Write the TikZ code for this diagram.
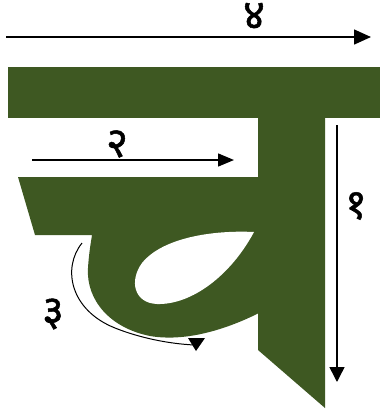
\documentclass[tikz,border=0pt]{standalone}
\usepackage{fontspec}
\newfontfamily\deva[Script=Devanagari,FakeBold=1.2]{Noto Sans}
\usetikzlibrary{arrows.meta}
\definecolor{leaf}{RGB}{62,88,34}
\begin{document}
\begin{tikzpicture}[x=1pt,y=-1pt,
  num/.style={font=\deva\fontsize{42}{42}\selectfont, inner sep=0pt},
  strokearrow/.style={line width=1.5pt},
  glyph/.style={fill=leaf, draw=none}]
\useasboundingbox (0,0) rectangle (380,416);
% letter cha
\fill[glyph] (8,67) rectangle (380,118);
\fill[glyph] (258,116) -- (325,116) -- (325,408) -- (258,350) -- cycle;
\fill[glyph] (18,177) -- (259,177) -- (259,313)
  .. controls (225,330) and (185,342) .. (150,336)
  .. controls (110,328) and (86,300) .. (88,268)
  .. controls (89,252) and (91,242) .. (92,235)
  -- (35,235) -- cycle;
\fill[white] (254,232) .. controls (215,230) and (163,237) .. (142,263)
  .. controls (129,281) and (134,303) .. (157,304)
  .. controls (192,305) and (231,275) .. (254,232) -- cycle;
% stroke arrows
\coordinate (a4s) at (6,37);
\coordinate (a4e) at (371,37);
\draw[strokearrow, -{Triangle[length=17pt,width=15pt]}] (a4s) -- (a4e);
\coordinate (a2s) at (32,160);
\coordinate (a2e) at (234,160);
\draw[strokearrow, -{Triangle[length=16pt,width=13pt]}] (a2s) -- (a2e);
\coordinate (a1s) at (337,125);
\coordinate (a1e) at (337,382);
\draw[strokearrow, -{Triangle[length=15pt,width=15pt]}] (a1s) -- (a1e);
\coordinate (a3s) at (82,243);
\coordinate (a3e) at (195,345);
\draw[line width=1pt] (a3s) .. controls (62,268) and (70,310) .. (115,328)
  .. controls (140,338) and (170,344) .. (a3e);
\fill (188,338) -- (205,338) -- (196,351) -- cycle;
% numbers
\node[num] (n4) at (254,16) {४};
\node[num] (n2) at (117,144) {२};
\node[num] (n1) at (356,206) {१};
\node[num] (n3) at (53,314) {३};
\end{tikzpicture}
\end{document}
